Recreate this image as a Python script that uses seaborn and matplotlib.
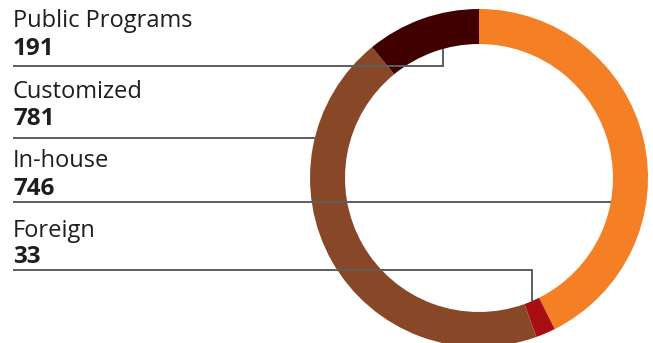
import numpy as np
import matplotlib
matplotlib.use("Agg")
import matplotlib.pyplot as plt
import seaborn as sns

# Programme counts, in clockwise order from 12 o'clock
categories = ["In-house", "Foreign", "Customized", "Public Programs"]
counts = [746, 33, 781, 191]
colors = ["#F47F24", "#A80E12", "#884827", "#400000"]

# Legend rows on the left, top to bottom
label_order = ["Public Programs", "Customized", "In-house", "Foreign"]

sns.set_theme(style="white")
plt.rcParams["font.family"] = ["Open Sans", "DejaVu Sans"]

W, H = 653, 343
fig = plt.figure(figsize=(W / 100, H / 100), dpi=100)
ax = fig.add_axes([0, 0, 1, 1])

# donut geometry (pixel units, y measured from the top)
cx, cy_px = 479, 178
R_out, ring_w = 169, 35
R_in = R_out - ring_w
cy = H - cy_px

wedges, _ = ax.pie(counts, colors=colors, startangle=90, counterclock=False,
                   center=(cx, cy), radius=R_out,
                   wedgeprops=dict(width=ring_w, linewidth=0))
ax.set_xlim(0, W)
ax.set_ylim(0, H)
ax.set_aspect("equal")
ax.axis("off")

# clockwise angles (degrees from top) of each wedge
total = float(sum(counts))
bounds = np.concatenate([[0], np.cumsum(counts)]) / total * 360.0
wedge_span = {c: (bounds[i], bounds[i + 1]) for i, c in enumerate(categories)}

# label layout: text baselines and leader line row (pixels from top)
name_y = [27, 98, 167, 237]
value_y = [55, 125, 195, 263]
line_y = [66, 138, 202, 270]
leader_kind = ["drop", "outer", "inner", "drop"]
drop_frac = [0.6, None, None, 0.5]

x_text = 13
line_color = "#5e5e5e"
for i, name in enumerate(label_order):
    val = counts[categories.index(name)]
    ax.text(x_text, H - name_y[i], name, fontsize=17, color="#1e1e1e",
            va="baseline", ha="left")
    ax.text(x_text, H - value_y[i], f"{val}", fontsize=17.5, color="#1e1e1e",
            fontweight="bold", va="baseline", ha="left")

    yl = line_y[i]
    dy = yl - cy_px
    kind = leader_kind[i]
    if kind == "outer":
        xs = [x_text, cx - np.sqrt(R_out ** 2 - dy ** 2)]
        ys = [yl, yl]
    elif kind == "inner":
        xs = [x_text, cx + np.sqrt(R_in ** 2 - dy ** 2)]
        ys = [yl, yl]
    else:
        a0, a1 = wedge_span[name]
        th = np.radians(a0 + drop_frac[i] * (a1 - a0))
        xe = cx + R_in * np.sin(th)
        ye = cy_px - R_in * np.cos(th)
        xs = [x_text, xe, xe]
        ys = [yl, yl, ye]
    ax.plot(xs, [H - y for y in ys], color=line_color, lw=1.4,
            solid_capstyle="butt", solid_joinstyle="miter", zorder=5)

fig.savefig("out.png", dpi=100)
